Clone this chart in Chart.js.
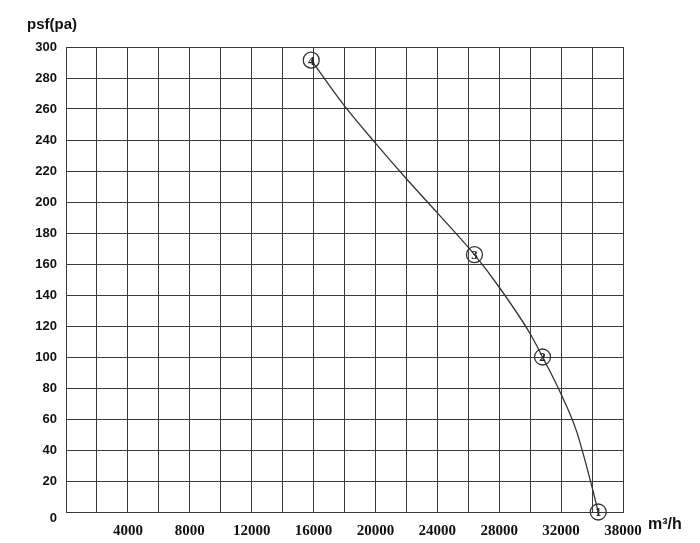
<!DOCTYPE html>
<html lang="en">
<head>
  <meta charset="UTF-8">
  <title>Fan curve psf / airflow</title>
  <style>
    body { margin: 0; background: #fff; }
    #chart { display: block; }
  </style>
  <script src="https://cdn.jsdelivr.net/npm/chart.js"></script>
</head>
<body>
  <canvas id="chart" width="700" height="543"></canvas>
  <script>
    // curve (airflow m3/h, static pressure pa)
    const curveFlow = [15850, 18000, 20000, 22000, 24000, 26400, 28000, 30000, 30800, 32000, 33000, 34000, 34400];
    const curvePsf  = [291.5, 262, 238, 215, 193, 166, 145, 115, 100, 76, 52, 16, 0];

    // numbered operating points
    const markerFlow  = [34400, 30800, 26400, 15850];
    const markerPsf   = [0, 100, 166, 291.5];
    const markerNames = ['1', '2', '3', '4'];

    // x tick labels (the last one is printed as 38000 on the original)
    const xTickValues = [4000, 8000, 12000, 16000, 20000, 24000, 28000, 32000, 36000];
    const xTickLabels = ['4000', '8000', '12000', '16000', '20000', '24000', '28000', '32000', '38000'];

    const lineColor = '#333';

    const markerText = {
      id: 'markerText',
      afterDatasetsDraw(chart) {
        const ctx = chart.ctx;
        const meta = chart.getDatasetMeta(1);
        ctx.save();
        ctx.fillStyle = '#222';
        ctx.font = 'bold 13px "Liberation Serif"';
        ctx.textAlign = 'center';
        ctx.textBaseline = 'middle';
        meta.data.forEach((pt, i) => {
          ctx.fillText(markerNames[i], pt.x, pt.y + 1);
        });
        ctx.restore();
      }
    };

    const axisTitles = {
      id: 'axisTitles',
      afterDraw(chart) {
        const ctx = chart.ctx;
        ctx.save();
        ctx.fillStyle = '#111';
        ctx.textBaseline = 'middle';
        ctx.font = 'bold 15px "Liberation Sans"';
        ctx.fillText('psf(pa)', 27, 25);
        ctx.font = 'bold 16px "Liberation Sans"';
        ctx.fillText('m³/h', 648, 525);
        // the zero of the y axis sits a little below its grid line
        ctx.font = 'bold 13px "Liberation Sans"';
        ctx.textAlign = 'right';
        ctx.fillText('0', 57, 518);
        ctx.restore();
      }
    };

    new Chart(document.getElementById('chart'), {
      type: 'line',
      data: {
        datasets: [
          {
            data: curveFlow.map((x, i) => ({ x: x, y: curvePsf[i] })),
            borderColor: lineColor,
            borderWidth: 1.3,
            pointRadius: 0,
            cubicInterpolationMode: 'monotone',
            fill: false
          },
          {
            type: 'scatter',
            data: markerFlow.map((x, i) => ({ x: x, y: markerPsf[i] })),
            pointRadius: 8,
            pointBorderWidth: 1.3,
            pointBorderColor: lineColor,
            pointBackgroundColor: 'rgba(255,255,255,0)',
            clip: false
          }
        ]
      },
      options: {
        responsive: false,
        animation: false,
        layout: { padding: { top: 47, right: 77, left: 0, bottom: 0 } },
        plugins: {
          legend: { display: false },
          tooltip: { enabled: false }
        },
        scales: {
          x: {
            type: 'linear',
            min: 0,
            max: 36000,
            afterFit: (s) => { s.height = 31; },
            afterBuildTicks: (s) => {
              const ticks = [];
              for (let v = 0; v <= 36000; v += 2000) ticks.push({ value: v });
              s.ticks = ticks;
            },
            ticks: {
              autoSkip: false,
              maxRotation: 0,
              padding: 10,
              color: '#111',
              font: { family: '"Liberation Serif"', size: 15, weight: 'bold' },
              callback: (v) => {
                const i = xTickValues.indexOf(v);
                return i >= 0 ? xTickLabels[i] : '';
              }
            },
            grid: { color: '#3a3a3a', lineWidth: 1, drawTicks: false },
            border: { color: '#3a3a3a', width: 1 }
          },
          y: {
            min: 0,
            max: 300,
            afterFit: (s) => { s.width = 66; },
            ticks: {
              stepSize: 20,
              padding: 9,
              color: '#111',
              font: { family: '"Liberation Sans"', size: 13, weight: 'bold' },
              callback: (v) => (v === 0 ? '' : v)
            },
            grid: { color: '#3a3a3a', lineWidth: 1, drawTicks: false },
            border: { color: '#3a3a3a', width: 1 }
          }
        }
      },
      plugins: [markerText, axisTitles]
    });
  </script>
</body>
</html>
